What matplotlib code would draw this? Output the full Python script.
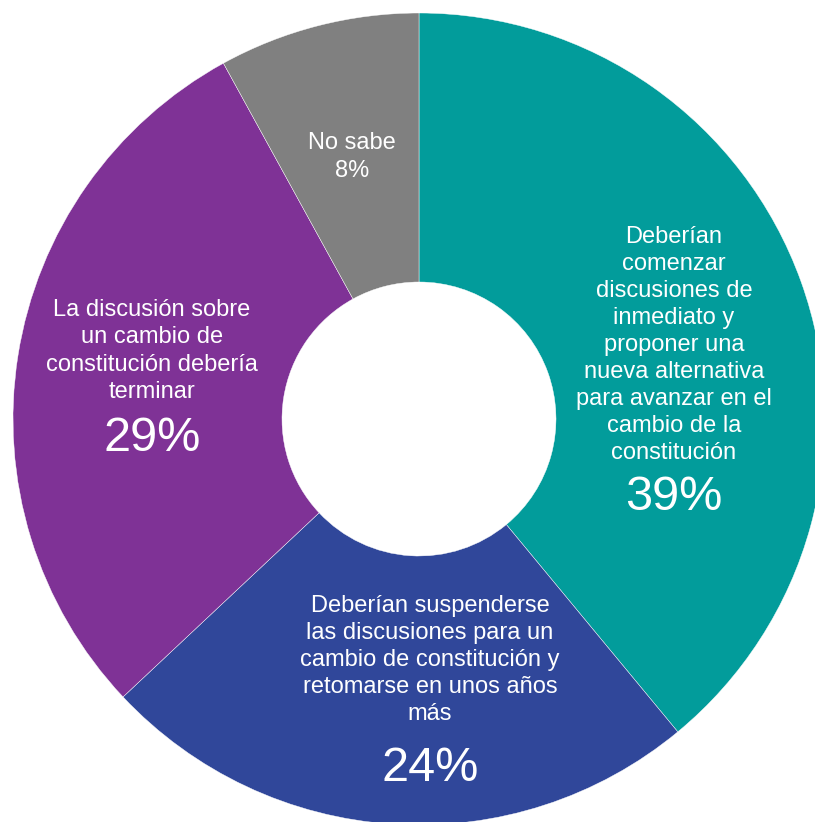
import matplotlib
matplotlib.use("Agg")
import matplotlib.pyplot as plt

plt.rcParams['font.family'] = ['Liberation Sans', 'DejaVu Sans']

# data
categories = [
    "Deberían\ncomenzar\ndiscusiones de\ninmediato y\nproponer una\nnueva alternativa\npara avanzar en el\ncambio de la\nconstitución",
    "Deberían suspenderse\nlas discusiones para un\ncambio de constitución y\nretomarse en unos años\nmás",
    "La discusión sobre\nun cambio de\nconstitución debería\nterminar",
    "No sabe",
]
values = [39, 24, 29, 8]
colors = ["#029C9B", "#30479A", "#7F3296", "#808080"]

W, H = 815, 822
CX, CY, R = 419, 419, 406


def px(x, y):
    # pixel position in picture -> data coords
    return (x - CX) / R, (CY - y) / R


fig = plt.figure(figsize=(W / 100, H / 100), dpi=100)
ax = fig.add_axes([0, 0, 1, 1])
ax.pie(values, colors=colors, startangle=90, counterclock=False,
       radius=1.0, wedgeprops=dict(width=1 - 137 / R, edgecolor='white', linewidth=0.3))
ax.set_xlim(px(0, 0)[0], px(W, 0)[0])
ax.set_ylim(px(0, H)[1], px(0, 0)[1])
ax.set_aspect('auto')
ax.axis('off')

# label block centre and percent position (pixels)
label_pos = [(674, 345), (430, 660), (152, 351), (352, 143)]
pct_pos = [(674, 497), (430, 768), (152, 438), (352, 171)]
big = [True, True, True, False]

for cat, v, lp, pp, b in zip(categories, values, label_pos, pct_pos, big):
    x, y = px(*lp)
    ax.text(x, y, cat, ha='center', va='center', color='white',
            fontsize=17, linespacing=1.3)
    x, y = px(*pp)
    ax.text(x, y, f"{v}%", ha='center', va='center', color='white',
            fontsize=35 if b else 17)

fig.savefig("out.png", dpi=100)
